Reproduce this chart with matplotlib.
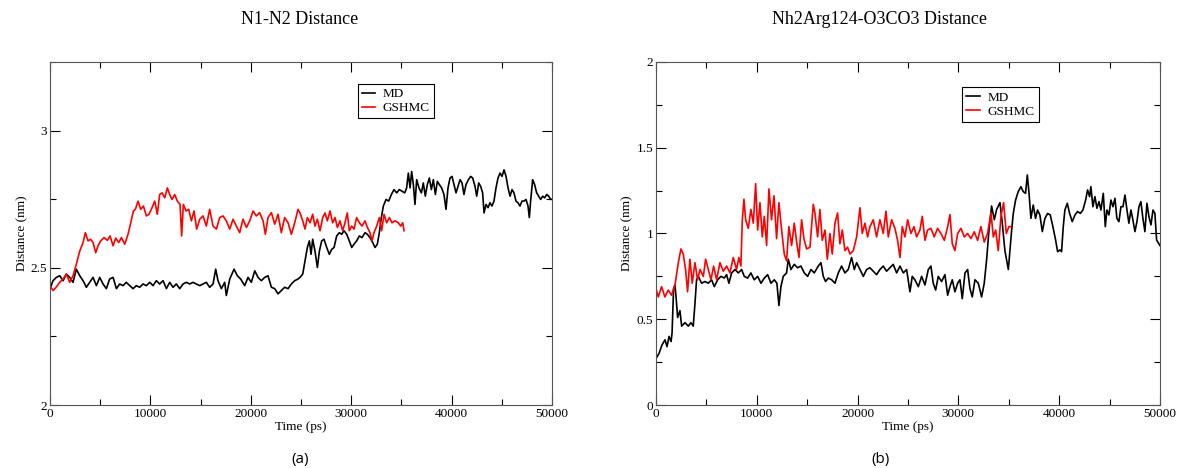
import numpy as np
import matplotlib.pyplot as plt
from matplotlib.ticker import MultipleLocator, FormatStrFormatter

# (a) N1-N2 distance, MD run
t_md_a = [0, 300, 630, 960, 1300, 1630, 1960, 2290, 2620, 2960, 3290, 3620, 3950, 4280, 4620,
          4950, 5280, 5610, 5940, 6280, 6610, 6940, 7270, 7600, 7940, 8270, 8600, 8930, 9260,
          9600, 9930, 10260, 10590, 10920, 11260, 11590, 11920, 12250, 12580, 12920, 13250,
          13580, 13910, 14240, 14580, 14910, 15240, 15570, 15900, 16240, 16500, 16730, 17070,
          17400, 17560, 17900, 18330, 18660, 18990, 19390, 19720, 20050, 20390, 20720, 21050,
          21380, 21710, 22050, 22380, 22710, 23040, 23370, 23710, 24040, 24370, 24700,
          24900, 25170, 25400, 25630, 25830, 26000, 26160, 26390, 26630, 26830, 27060, 27290,
          27560, 27820, 28050, 28290, 28550, 28820, 29050, 29280, 29550, 29810, 30050, 30280,
          30540, 30810, 31080, 31370, 31610, 31870, 32140, 32370, 32600, 32800, 33000, 33200,
          33470, 33730, 34000, 34260, 34530, 34790, 35060, 35330, 35520, 35690, 35860, 36020,
          36190, 36350, 36520, 36750, 36990, 37180, 37380, 37580, 37780, 37980, 38180, 38380,
          38580, 38780, 39010, 39240, 39440, 39640, 39840, 40040, 40240, 40440, 40640, 40840,
          41040, 41230, 41430, 41670, 41900, 42100, 42330, 42500, 42700, 42890, 43090, 43230,
          43430, 43630, 43820, 44020, 44220, 44420, 44620, 44820, 45020, 45220, 45420, 45620,
          45820, 46020, 46210, 46410, 46610, 46810, 47010, 47210, 47410, 47610, 47740, 47870,
          48070, 48270, 48470, 48670, 48870, 49070, 49270, 49470, 49670, 49870, 50000]
d_md_a = [2.424, 2.453, 2.465, 2.471, 2.453, 2.477, 2.465, 2.447, 2.495, 2.471, 2.453, 2.429,
          2.447, 2.465, 2.435, 2.465, 2.441, 2.424, 2.459, 2.465, 2.424, 2.441, 2.435, 2.447,
          2.435, 2.424, 2.435, 2.429, 2.441, 2.435, 2.447, 2.435, 2.453, 2.441, 2.453, 2.424,
          2.447, 2.429, 2.441, 2.424, 2.441, 2.447, 2.441, 2.447, 2.441, 2.435, 2.441, 2.447,
          2.429, 2.441, 2.495, 2.453, 2.424, 2.447, 2.399, 2.459, 2.495, 2.471, 2.459, 2.435,
          2.465, 2.447, 2.489, 2.465, 2.453, 2.465, 2.471, 2.429, 2.424, 2.405, 2.417, 2.429,
          2.424, 2.441, 2.453, 2.459,
          2.465, 2.477, 2.525, 2.574, 2.598, 2.549, 2.604, 2.561, 2.501, 2.561, 2.598, 2.604,
          2.574, 2.549, 2.567, 2.574, 2.616, 2.628, 2.622, 2.635, 2.622, 2.598, 2.574, 2.586,
          2.598, 2.616, 2.610, 2.628, 2.622, 2.610, 2.592, 2.574, 2.586, 2.628, 2.683, 2.725,
          2.749, 2.743, 2.767, 2.785, 2.773, 2.785, 2.779, 2.773, 2.791, 2.845, 2.791, 2.851,
          2.803, 2.731, 2.821, 2.791, 2.773, 2.809, 2.761, 2.803, 2.827, 2.785, 2.821, 2.767,
          2.815, 2.803, 2.791, 2.767, 2.713, 2.791, 2.827, 2.833, 2.803, 2.773, 2.797, 2.821,
          2.809, 2.767, 2.803, 2.821, 2.833, 2.827, 2.797, 2.761, 2.809, 2.797, 2.773, 2.700,
          2.731, 2.719, 2.737, 2.725, 2.743, 2.791, 2.827, 2.845, 2.833, 2.857, 2.833, 2.791,
          2.761, 2.785, 2.773, 2.743, 2.737, 2.725, 2.743, 2.743, 2.749, 2.725, 2.683, 2.743,
          2.821, 2.803, 2.773, 2.761, 2.749, 2.761, 2.755, 2.767, 2.761, 2.749, 2.750]

# (a) N1-N2 distance, GSHMC run
t_gs_a = [0, 300, 630, 960, 1300, 1630, 1960, 2290, 2620, 2960, 3290, 3520, 3790, 4050, 4280,
          4550, 4780, 5050, 5380, 5710, 5980, 6280, 6540, 6840, 7110, 7440, 7770, 8040, 8300,
          8500, 8770, 9030, 9300, 9600, 9860, 10160, 10430, 10690, 10920, 11160, 11420, 11690,
          11920, 12150, 12420, 12680, 12950, 13110, 13280, 13550, 13810, 14080, 14340, 14610,
          14910, 15240, 15570, 15900, 16240, 16570, 16900, 17230, 17560, 17900, 18230, 18560,
          18890, 19220, 19560, 19890, 20220, 20550, 20880, 21220, 21450, 21710, 22050, 22380,
          22710, 23040, 23370, 23710, 24040, 24370, 24700,
          24900, 25170, 25400, 25630, 25900, 26160, 26390, 26630, 26890, 27160, 27390, 27620,
          27890, 28150, 28390, 28620, 28880, 29150, 29380, 29610, 29810, 30050, 30280, 30540,
          30810, 31080, 31370, 31610, 31870, 32070, 32270, 32540, 32800, 33030, 33270, 33530,
          33800, 34060, 34360, 34690, 34930, 35130, 35260]
d_gs_a = [2.435, 2.417, 2.430, 2.447, 2.459, 2.477, 2.447, 2.471, 2.513, 2.561, 2.592, 2.628,
          2.598, 2.604, 2.592, 2.555, 2.580, 2.598, 2.610, 2.600, 2.616, 2.580, 2.608, 2.592,
          2.610, 2.586, 2.622, 2.664, 2.707, 2.713, 2.743, 2.713, 2.725, 2.689, 2.695, 2.719,
          2.743, 2.695, 2.767, 2.773, 2.755, 2.791, 2.767, 2.749, 2.767, 2.743, 2.731, 2.616,
          2.731, 2.707, 2.713, 2.671, 2.707, 2.641, 2.677, 2.689, 2.652, 2.713, 2.652, 2.641,
          2.683, 2.689, 2.671, 2.641, 2.677, 2.652, 2.628, 2.677, 2.647, 2.671, 2.707, 2.689,
          2.701, 2.671, 2.622, 2.683, 2.701, 2.659, 2.695, 2.628, 2.683, 2.664, 2.622, 2.664,
          2.713,
          2.700, 2.671, 2.641, 2.683, 2.664, 2.695, 2.652, 2.677, 2.635, 2.683, 2.700, 2.671,
          2.707, 2.664, 2.683, 2.647, 2.671, 2.635, 2.664, 2.700, 2.635, 2.652, 2.641, 2.683,
          2.664, 2.652, 2.671, 2.647, 2.628, 2.598, 2.628, 2.652, 2.683, 2.635, 2.695, 2.664,
          2.683, 2.664, 2.671, 2.664, 2.652, 2.664, 2.635]

# (b) Nh2Arg124-O3CO3 distance, MD run
t_md_b = [0, 300, 600, 900, 1100, 1300, 1500, 1600, 1750, 1890, 2050, 2150, 2380, 2550, 2880,
          3210, 3470, 3700, 3870, 4030, 4200, 4530, 4860, 5190, 5520, 5790, 6120, 6450, 6780,
          7010, 7240, 7510, 7840, 8170, 8500, 8760, 9090, 9420, 9750, 10090, 10420, 10750,
          11080, 11410, 11740, 12000, 12200, 12400, 12630, 12960, 13130, 13390, 13720, 14050,
          14380, 14720, 15050, 15380, 15710,
          16100, 16370, 16600, 16830, 17100, 17430, 17760, 18090, 18420, 18750, 19080, 19410,
          19680, 19910, 20240, 20570, 20900, 21230, 21560, 21890, 22220, 22550, 22880, 23210,
          23540, 23880, 24210, 24540, 24870, 25200, 25430, 25690, 26030, 26360, 26690, 27020,
          27280, 27510, 27750, 28010, 28340, 28670, 28940, 29170, 29400, 29660, 29930, 30160,
          30390, 30660, 30920, 31150, 31380, 31650, 31980, 32310, 32570, 32810, 33040, 33300,
          33570, 33800, 34130, 34360, 34620, 34960, 35290,
          35450, 35680, 35940, 36210, 36440, 36670, 36840, 37000, 37200, 37430, 37660, 37860,
          38090, 38330, 38590, 38860, 39120, 39380, 39650, 39850, 40080, 40240, 40410, 40570,
          40810, 41040, 41300, 41570, 41830, 42100, 42360, 42630, 42820, 43020, 43150, 43350,
          43550, 43750, 43950, 44150, 44380, 44580, 44740, 44940, 45140, 45340, 45540, 45730,
          45930, 46130, 46330, 46530, 46730, 46920, 47120, 47320, 47520, 47720, 47920, 48110,
          48310, 48510, 48710, 48910, 49110, 49310, 49500, 49670, 50000]
d_md_b = [0.27, 0.30, 0.35, 0.38, 0.34, 0.40, 0.37, 0.42, 0.68, 0.70, 0.59, 0.51, 0.55, 0.46,
          0.48, 0.46, 0.48, 0.46, 0.59, 0.73, 0.75, 0.71, 0.72, 0.71, 0.73, 0.69, 0.73, 0.75,
          0.74, 0.76, 0.71, 0.77, 0.79, 0.77, 0.79, 0.75, 0.74, 0.77, 0.73, 0.75, 0.71, 0.74,
          0.76, 0.71, 0.73, 0.71, 0.58, 0.69, 0.75, 0.77, 0.85, 0.79, 0.82, 0.80, 0.81, 0.77,
          0.75, 0.79, 0.77,
          0.81, 0.83, 0.75, 0.72, 0.74, 0.73, 0.71, 0.77, 0.81, 0.77, 0.79, 0.86, 0.79, 0.83,
          0.79, 0.75, 0.79, 0.80, 0.78, 0.76, 0.79, 0.81, 0.78, 0.80, 0.82, 0.77, 0.81, 0.77,
          0.79, 0.66, 0.75, 0.73, 0.69, 0.75, 0.70, 0.79, 0.81, 0.71, 0.67, 0.75, 0.72, 0.76,
          0.64, 0.69, 0.73, 0.66, 0.71, 0.73, 0.62, 0.77, 0.79, 0.68, 0.63, 0.73, 0.71, 0.63,
          0.71, 0.85, 1.02, 1.16, 1.08, 1.14, 1.18, 1.06, 0.90, 0.79, 1.02,
          1.117, 1.195, 1.244, 1.273, 1.244, 1.234, 1.341, 1.244, 1.088, 1.166, 1.088, 1.137,
          1.108, 1.011, 1.088, 1.117, 1.108, 1.040, 0.962, 0.894, 0.904, 0.894, 1.040, 1.137,
          1.176, 1.117, 1.069, 1.108, 1.128, 1.117, 1.137, 1.195, 1.254, 1.215, 1.273, 1.156,
          1.215, 1.147, 1.186, 1.137, 1.234, 1.040, 1.137, 1.108, 1.195, 1.156, 1.205, 1.088,
          1.069, 1.156, 1.156, 1.224, 1.137, 1.060, 1.137, 1.079, 1.011, 1.069, 1.156, 1.186,
          1.088, 1.011, 1.176, 1.098, 1.050, 1.137, 1.117, 0.962, 0.93]

# (b) Nh2Arg124-O3CO3 distance, GSHMC run
t_gs_b = [0, 0, 230, 560, 890, 1220, 1550, 1890, 2220, 2480, 2710, 2940, 3140, 3370, 3600,
          3870, 4130, 4370, 4700, 4930, 5190, 5460, 5720, 6020, 6350, 6680, 7010, 7340, 7670,
          8000, 8230, 8430, 8570, 8730, 8900, 9160, 9420, 9660, 9890, 10090, 10320, 10550,
          10750, 10980, 11210, 11470, 11710, 11970, 12200, 12470, 12730, 12960, 13190, 13460,
          13720, 13960, 14190, 14450, 14680, 14950, 15280, 15610,
          15770, 16040, 16270, 16500, 16770, 17000, 17260, 17490, 17760, 18020, 18250, 18490,
          18750, 19010, 19250, 19580, 19910, 20240, 20470, 20730, 21000, 21230, 21560, 21890,
          22220, 22550, 22820, 23050, 23380, 23710, 23970, 24210, 24440, 24700, 24970, 25300,
          25600, 25860, 26190, 26420, 26690, 26950, 27280, 27610, 27940, 28270, 28610, 28940,
          29170, 29400, 29660, 29930, 30260, 30590, 30920, 31250, 31580, 31910, 32240, 32570,
          32900, 33240, 33470, 33700, 33960, 34230, 34490, 34760, 35020, 35200]
d_gs_b = [0.36, 0.68, 0.63, 0.69, 0.63, 0.67, 0.64, 0.70, 0.83, 0.91, 0.88, 0.79, 0.66, 0.85,
          0.71, 0.83, 0.73, 0.79, 0.75, 0.85, 0.79, 0.73, 0.81, 0.73, 0.83, 0.78, 0.81, 0.77,
          0.86, 0.79, 0.86, 0.81, 1.08, 1.20, 1.08, 1.03, 1.14, 1.06, 1.29, 1.02, 1.18, 0.98,
          1.10, 0.93, 1.26, 1.08, 1.22, 0.97, 1.18, 1.02, 0.88, 0.84, 1.04, 0.93, 1.06, 0.95,
          0.86, 1.08, 0.97, 0.91, 0.92, 1.17,
          1.12, 0.98, 1.14, 0.96, 1.02, 0.85, 1.00, 0.88, 1.06, 1.12, 0.94, 1.02, 0.90, 0.92,
          0.88, 0.90, 0.98, 1.15, 1.00, 1.06, 0.98, 1.04, 1.08, 0.98, 1.08, 1.00, 1.13, 0.98,
          1.08, 1.03, 0.96, 0.86, 1.04, 0.98, 1.08, 1.00, 1.04, 0.98, 1.02, 1.10, 0.96, 1.02,
          1.03, 0.98, 1.03, 1.00, 0.96, 1.04, 1.11, 0.94, 0.90, 1.00, 1.03, 0.98, 1.00, 0.97,
          1.01, 0.96, 1.04, 0.95, 1.00, 1.12, 0.98, 1.02, 0.90, 1.10, 1.18, 1.00, 1.04, 1.04]

plt.rcParams['font.family'] = 'Liberation Serif'

fig = plt.figure(figsize=(11.77, 4.68), dpi=100)
ax1 = fig.add_axes([0.0425, 0.1346, 0.4265, 0.733])
ax2 = fig.add_axes([0.5573, 0.1346, 0.4282, 0.733])

panels = [
    (ax1, t_md_a, d_md_a, t_gs_a, d_gs_a, (2, 3.25), 0.6, 0.955),
    (ax2, t_md_b, d_md_b, t_gs_b, d_gs_b, (0, 2), 0.595, 0.945),
]
for ax, tm, dm, tg, dg, ylim, lx, ly in panels:
    ax.plot(tm, dm, color='black', lw=1.2, label='MD')
    ax.plot(tg, dg, color='red', lw=1.2, label='GSHMC')
    ax.set_xlim(0, 50000)
    ax.set_ylim(*ylim)
    ax.xaxis.set_major_locator(MultipleLocator(10000))
    ax.xaxis.set_minor_locator(MultipleLocator(5000))
    ax.yaxis.set_major_locator(MultipleLocator(0.5))
    ax.yaxis.set_minor_locator(MultipleLocator(0.25))
    ax.yaxis.set_major_formatter(FormatStrFormatter('%g'))
    ax.tick_params(which='both', direction='in', top=True, right=True, labelsize=9.5, pad=2)
    ax.tick_params(which='major', length=7, width=0.8)
    ax.tick_params(which='minor', length=4, width=0.8)
    for s in ax.spines.values():
        s.set_color('#555555')
    ax.set_xlabel('Time (ps)', fontsize=9.5, labelpad=1)
    ax.set_ylabel('Distance (nm)', fontsize=9.5, labelpad=2)
    leg = ax.legend(loc='upper left', bbox_to_anchor=(lx, ly), fontsize=9.5,
                    handlelength=1.0, handletextpad=0.6, borderpad=0.3,
                    labelspacing=0.15, fancybox=False, framealpha=1)
    leg.get_frame().set_edgecolor('black')
    leg.get_frame().set_linewidth(0.8)

fig.text(300 / 1177, 1 - 20 / 468, 'N1-N2 Distance', ha='center', va='center', fontsize=13)
fig.text(880 / 1177, 1 - 20 / 468, 'Nh2Arg124-O3CO3 Distance', ha='center', va='center', fontsize=13)
fig.text(300 / 1177, 1 - 459 / 468, '(a)', ha='center', va='center', fontsize=11, family='Open Sans')
fig.text(880 / 1177, 1 - 459 / 468, '(b)', ha='center', va='center', fontsize=11, family='Open Sans')

fig.savefig('out.png', dpi=100)
